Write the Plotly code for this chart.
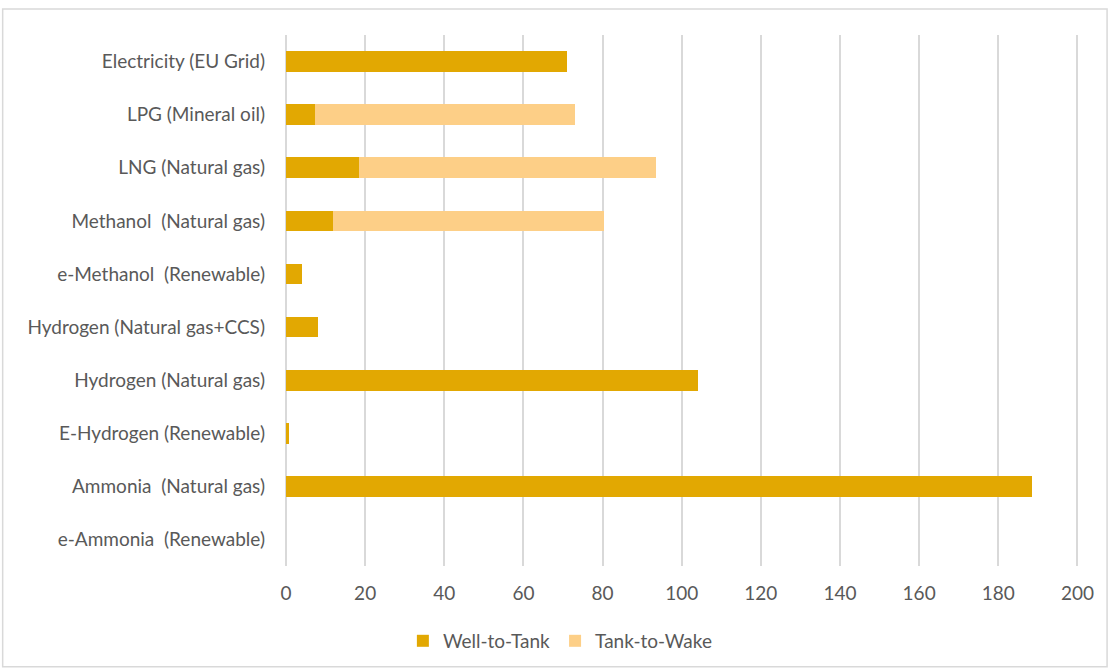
import plotly.graph_objects as go

categories = [
    "Electricity (EU Grid)",
    "LPG (Mineral oil)",
    "LNG (Natural gas)",
    "Methanol  (Natural gas)",
    "e-Methanol  (Renewable)",
    "Hydrogen (Natural gas+CCS)",
    "Hydrogen (Natural gas)",
    "E-Hydrogen (Renewable)",
    "Ammonia  (Natural gas)",
    "e-Ammonia  (Renewable)",
]
well_to_tank = [71, 7.3, 18.5, 11.8, 4.1, 8.2, 104, 0.8, 188.5, 0]
tank_to_wake = [0, 65.8, 75.0, 68.6, 0, 0, 0, 0, 0, 0]
x_ticks = [0, 20, 40, 60, 80, 100, 120, 140, 160, 180, 200]

FONT = "Lato"
TXT = "#595959"
FS = 19

fig = go.Figure()
fig.add_trace(go.Bar(
    y=categories, x=well_to_tank, orientation="h", name="Well-to-Tank",
    marker=dict(color="#E2A802", line=dict(width=0)),
))
fig.add_trace(go.Bar(
    y=categories, x=tank_to_wake, orientation="h", name="Tank-to-Wake",
    marker=dict(color="#FDCF87", line=dict(width=0)),
))

fig.update_layout(
    barmode="stack",
    bargap=0.61,
    width=1108, height=671,
    margin=dict(l=286, r=29, t=35, b=104),
    paper_bgcolor="white",
    plot_bgcolor="white",
    font=dict(family=FONT, size=FS, color=TXT),
    showlegend=True,
    legend=dict(
        orientation="h", x=0.346, xanchor="center", y=-0.139, yanchor="middle",
        font=dict(family=FONT, size=FS, color=TXT),
        itemwidth=30, traceorder="normal",
    ),
    xaxis=dict(
        range=[0, 200.4], tickvals=x_ticks, ticktext=[str(v) for v in x_ticks],
        showgrid=True, gridcolor="#D9D9D9", gridwidth=1.5,
        zeroline=True, zerolinecolor="#D9D9D9", zerolinewidth=1.5,
        showline=False, ticks="", ticklabelstandoff=14,
        tickfont=dict(family=FONT, size=FS, color=TXT),
    ),
    yaxis=dict(
        categoryorder="array", categoryarray=categories,
        autorange="reversed", showgrid=False, zeroline=False, showline=False,
        ticks="", ticklabelstandoff=20,
        tickfont=dict(family=FONT, size=FS, color=TXT),
    ),
    shapes=[dict(
        type="rect", xref="paper", yref="paper",
        x0=-0.3573, x1=1.0354, y0=-0.1898, y1=1.0489,
        line=dict(color="#D9D9D9", width=1.5), fillcolor="rgba(0,0,0,0)",
        layer="below",
    )],
)

fig.write_html("out.html")
